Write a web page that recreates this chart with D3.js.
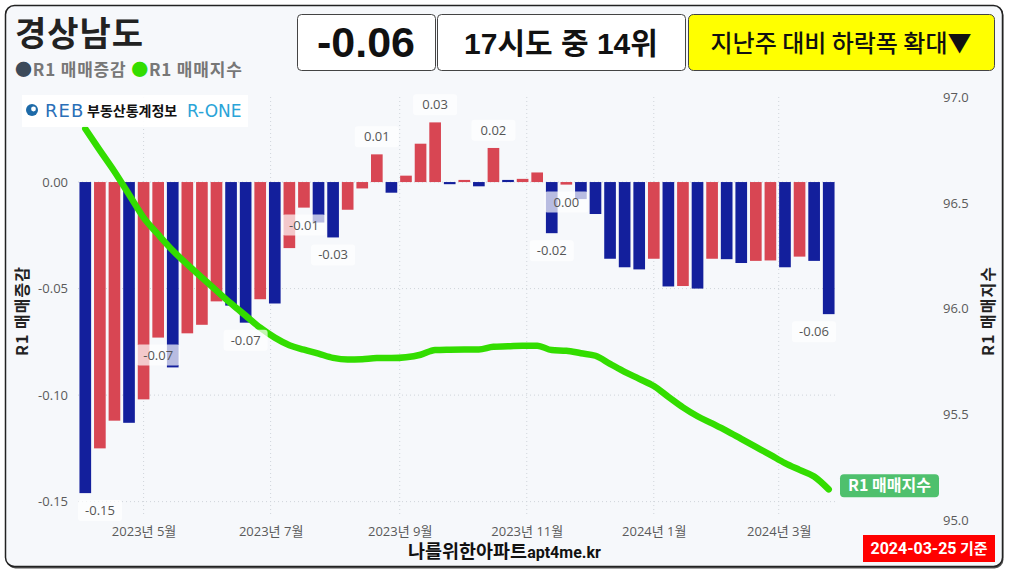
<!DOCTYPE html>
<html>
<head>
<meta charset="utf-8">
<script src="https://cdn.jsdelivr.net/npm/d3@7/dist/d3.min.js"></script>
<style>
  html, body { margin: 0; padding: 0; background: #ffffff; }
  svg { display: block; }
</style>
</head>
<body>
<svg id="chart" width="1009" height="574"></svg>
<script>
// ---------------- DATA ----------------
const weekDates = [
  "2023-04-03","2023-04-10","2023-04-17","2023-04-24",
  "2023-05-01","2023-05-08","2023-05-15","2023-05-22","2023-05-29",
  "2023-06-05","2023-06-12","2023-06-19","2023-06-26",
  "2023-07-03","2023-07-10","2023-07-17","2023-07-24","2023-07-31",
  "2023-08-07","2023-08-14","2023-08-21","2023-08-28",
  "2023-09-04","2023-09-11","2023-09-18","2023-09-25",
  "2023-10-02","2023-10-09","2023-10-16","2023-10-23","2023-10-30",
  "2023-11-06","2023-11-13","2023-11-20","2023-11-27",
  "2023-12-04","2023-12-11","2023-12-18","2023-12-25",
  "2024-01-01","2024-01-08","2024-01-15","2024-01-22","2024-01-29",
  "2024-02-05","2024-02-12","2024-02-19","2024-02-26",
  "2024-03-04","2024-03-11","2024-03-18","2024-03-25"
];
// R1 매매증감 (weekly change, %)
const changeValues = [
  -0.146, -0.125, -0.112, -0.113, -0.102, -0.073, -0.087, -0.071, -0.067, -0.056,
  -0.058, -0.066, -0.055, -0.057, -0.031, -0.012, -0.019, -0.026, -0.013, -0.003,
   0.013, -0.005,  0.003,  0.018,  0.028, -0.001,  0.001, -0.002,  0.016,  0.001,
   0.0015, 0.0045, -0.024, -0.0012, -0.008, -0.015, -0.036, -0.040, -0.041, -0.036,
  -0.049, -0.0488, -0.050, -0.036, -0.0362, -0.038, -0.037, -0.0368, -0.040, -0.035,
  -0.037, -0.062
];
// R1 매매지수 (index)
const indexValues = [
  96.851, 96.749, 96.649, 96.540, 96.431, 96.351, 96.275, 96.209, 96.147, 96.085,
  96.024, 95.967, 95.910, 95.863, 95.827, 95.806, 95.787, 95.767, 95.759, 95.761,
  95.766, 95.766, 95.770, 95.782, 95.804, 95.806, 95.807, 95.807, 95.820, 95.822,
  95.825, 95.825, 95.804, 95.801, 95.789, 95.777, 95.739, 95.701, 95.668, 95.634,
  95.583, 95.533, 95.491, 95.457, 95.422, 95.384, 95.346, 95.308, 95.269, 95.237,
  95.206, 95.145
];
const labelIndices = [0, 5, 11, 15, 17, 20, 24, 28, 32, 33, 51];
const leftTicks = [0, -0.05, -0.10, -0.15];
const rightTicks = [95.0, 95.5, 96.0, 96.5, 97.0];
const monthTicks = ["2023-05-01","2023-07-01","2023-09-01","2023-11-01","2024-01-01","2024-03-01"];
const monthTickLabels = ["2023년 5월","2023년 7월","2023년 9월","2023년 11월","2024년 1월","2024년 3월"];
const regionName = "경상남도";
const latestValue = "-0.06";
const rankText = "17시도 중 14위";
const trendText = "지난주 대비 하락폭 확대▼";
const baseDateText = "2024-03-25";

// ---------------- STYLE ----------------
const BLUE = "#131f9c", RED = "#d84653", GREEN = "#33dd00";
const KR = "'Noto Sans CJK KR', 'Noto Sans', sans-serif";
const TICKF = "'Open Sans', 'Noto Sans CJK KR', sans-serif";
const plot = { left: 78, right: 836, top: 97, bottom: 520 };

const parse = d3.utcParse("%Y-%m-%d");
const dates = weekDates.map(parse);
const DAY = 86400000;

const svg = d3.select("#chart");

// card
svg.append("rect").attr("x", 6.5).attr("y", 6.5).attr("width", 997).attr("height", 562)
  .attr("rx", 9).attr("fill", "#555");
svg.append("rect").attr("x", 5.5).attr("y", 5.5).attr("width", 997).attr("height", 561)
  .attr("rx", 9).attr("fill", "#f6f8fb").attr("stroke", "#222").attr("stroke-width", 1.5);

// scales
const x = d3.scaleUtc()
  .domain([new Date(+dates[0] - 3.5 * DAY), new Date(+dates[dates.length - 1] + 3.5 * DAY)])
  .range([plot.left, plot.right]);
const yL = d3.scaleLinear().domain([-0.15862, 0.03992]).range([plot.bottom, plot.top]);
const yR = d3.scaleLinear().domain([95, 97]).range([plot.bottom, 97.3]);
const step = x(dates[1]) - x(dates[0]);
const bw = step * 0.8;

// grid
const grid = svg.append("g");
grid.selectAll("line.h").data(leftTicks).join("line")
  .attr("x1", plot.left).attr("x2", plot.right)
  .attr("y1", d => yL(d)).attr("y2", d => yL(d))
  .attr("stroke", "#cfd4da").attr("stroke-width", 1).attr("stroke-dasharray", "1,3");
grid.selectAll("line.v").data(monthTicks.map(parse)).join("line")
  .attr("x1", d => x(d)).attr("x2", d => x(d))
  .attr("y1", plot.top).attr("y2", plot.bottom - 6)
  .attr("stroke", "#cfd4da").attr("stroke-width", 1).attr("stroke-dasharray", "1,3");

// bars
const barColor = (d, i) => (i === 0 ? BLUE : (d >= changeValues[i - 1] ? RED : BLUE));
svg.append("g").selectAll("rect").data(changeValues).join("rect")
  .attr("x", (d, i) => x(dates[i]) - bw / 2)
  .attr("width", bw)
  .attr("y", d => Math.min(yL(d), yL(0)))
  .attr("height", d => Math.max(1.2, Math.abs(yL(d) - yL(0))))
  .attr("fill", barColor);

// line
const line = d3.line()
  .x((d, i) => x(dates[i]))
  .y(d => yR(d))
  .curve(d3.curveMonotoneX);
svg.append("path").datum(indexValues)
  .attr("d", line)
  .attr("fill", "none").attr("stroke", GREEN).attr("stroke-width", 6.5)
  .attr("stroke-linecap", "round").attr("stroke-linejoin", "round");

// bar labels
const fmt = v => (Math.abs(v) < 0.005 ? "0.00" : v.toFixed(2));
const lab = svg.append("g");
labelIndices.forEach(i => {
  const v = changeValues[i];
  const bx = 44, bh = 21;
  let cx = x(dates[i]);
  cx = Math.max(plot.left + bx / 2, Math.min(plot.right - bx / 2, cx));
  const cy = v < 0 ? yL(v) + 17.5 : yL(v) - 17.7;
  lab.append("rect").attr("x", cx - bx / 2).attr("y", cy - bh / 2)
    .attr("width", bx).attr("height", bh).attr("rx", 3)
    .attr("fill", "#ffffff").attr("fill-opacity", 0.7);
  lab.append("text").attr("x", cx).attr("y", cy).attr("dy", "0.35em")
    .attr("text-anchor", "middle").attr("font-family", TICKF).attr("font-size", 13)
    .attr("fill", "#555").text(fmt(v));
});

// axes
const axL = svg.append("g").attr("transform", `translate(${plot.left - 10},0)`)
  .call(d3.axisLeft(yL).tickValues(leftTicks).tickSize(0).tickPadding(0)
    .tickFormat(d => d3.format(".2f")(d).replace("−", "-")));
const axR = svg.append("g").attr("transform", "translate(943,0)")
  .call(d3.axisRight(yR).tickValues(rightTicks).tickSize(0).tickPadding(0)
    .tickFormat(d3.format(".1f")));
const axB = svg.append("g").attr("transform", `translate(0,${plot.bottom})`)
  .call(d3.axisBottom(x).tickValues(monthTicks.map(parse)).tickSize(0).tickPadding(7)
    .tickFormat((d, i) => monthTickLabels[i]));
[axL, axR, axB].forEach(a => {
  a.select(".domain").remove();
  a.selectAll("text").attr("font-family", TICKF).attr("font-size", 13).attr("fill", "#5a5a5a");
});

// axis titles
svg.append("text").attr("transform", "translate(28,311) rotate(-90)")
  .attr("text-anchor", "middle").attr("font-family", KR).attr("font-weight", 700)
  .attr("font-size", 16).attr("letter-spacing", 1).attr("fill", "#222").text("R1 매매증감");
svg.append("text").attr("transform", "translate(994,311) rotate(-90)")
  .attr("text-anchor", "middle").attr("font-family", KR).attr("font-weight", 700)
  .attr("font-size", 16).attr("letter-spacing", 1).attr("fill", "#222").text("R1 매매지수");

// line end label
const lastI = indexValues.length - 1;
svg.append("rect").attr("x", 840).attr("y", yR(indexValues[lastI]) - 15)
  .attr("width", 99).attr("height", 23).attr("rx", 4).attr("fill", "#4fc06d");
svg.append("text").attr("x", 889.5).attr("y", yR(indexValues[lastI]) - 3.5).attr("dy", "0.35em")
  .attr("text-anchor", "middle").attr("font-family", KR).attr("font-weight", 700)
  .attr("font-size", 16).attr("fill", "#fff").text("R1 매매지수");

// logo
const logo = svg.append("g");
logo.append("rect").attr("x", 22).attr("y", 95).attr("width", 226).attr("height", 32)
  .attr("fill", "#ffffff").attr("fill-opacity", 0.92);
logo.append("circle").attr("cx", 32).attr("cy", 110).attr("r", 6).attr("fill", "#1d6aa8");
logo.append("circle").attr("cx", 33.5).attr("cy", 109).attr("r", 2.4).attr("fill", "#fff");
logo.append("text").attr("x", 45).attr("y", 117).attr("font-family", "'DejaVu Sans', sans-serif")
  .attr("font-size", 18).attr("fill", "#2a6fb8").attr("letter-spacing", 1).text("REB");
logo.append("text").attr("x", 87).attr("y", 116).attr("font-family", KR).attr("font-weight", 700)
  .attr("font-size", 14).attr("fill", "#111").text("부동산통계정보");
logo.append("text").attr("x", 187).attr("y", 117).attr("font-family", "'DejaVu Sans', sans-serif")
  .attr("font-size", 17).attr("fill", "#2aa4d8").text("R-ONE");

// title & legend
svg.append("text").attr("x", 15).attr("y", 46).attr("font-family", KR).attr("font-weight", 700)
  .attr("font-size", 34).attr("letter-spacing", 1).attr("fill", "#222").text(regionName);
const leg = svg.append("text").attr("x", 15).attr("y", 76).attr("font-family", KR)
  .attr("font-weight", 700).attr("font-size", 17).attr("letter-spacing", 0.8).attr("fill", "#777");
leg.append("tspan").attr("fill", "#3c4a5a").text("●");
leg.append("tspan").text("R1 매매증감 ");
leg.append("tspan").attr("fill", GREEN).text("●");
leg.append("tspan").text("R1 매매지수");

// header boxes
svg.append("rect").attr("x", 297.5).attr("y", 14.5).attr("width", 138).attr("height", 56)
  .attr("rx", 4).attr("fill", "#fff").attr("stroke", "#444");
svg.append("text").attr("x", 366).attr("y", 57).attr("text-anchor", "middle")
  .attr("font-family", "'Liberation Sans', Arial, sans-serif").attr("font-weight", 700)
  .attr("font-size", 43).attr("fill", "#111").text(latestValue);
svg.append("rect").attr("x", 437.5).attr("y", 14.5).attr("width", 248).attr("height", 56)
  .attr("rx", 4).attr("fill", "#fff").attr("stroke", "#444");
svg.append("text").attr("x", 561).attr("y", 54).attr("text-anchor", "middle")
  .attr("font-family", "'Liberation Sans', 'Noto Sans CJK KR', sans-serif").attr("font-weight", 700)
  .attr("font-size", 30).attr("fill", "#111").text(rankText);
svg.append("rect").attr("x", 688.5).attr("y", 14.5).attr("width", 306).attr("height", 56)
  .attr("rx", 5).attr("fill", "#ffff00").attr("stroke", "#444");
svg.append("text").attr("x", 841).attr("y", 52).attr("text-anchor", "middle")
  .attr("font-family", KR).attr("font-weight", 500)
  .attr("font-size", 24).attr("fill", "#111").text(trendText);

// footer
const ft = svg.append("text").attr("x", 408).attr("y", 558).attr("font-weight", 700).attr("fill", "#111");
ft.append("tspan").attr("font-family", KR).attr("font-size", 18.5).text("나를위한아파트");
ft.append("tspan").attr("font-family", "'Liberation Sans Narrow', 'Roboto', sans-serif")
  .attr("font-size", 16).text("apt4me.kr");

svg.append("rect").attr("x", 863).attr("y", 535).attr("width", 132).attr("height", 27).attr("fill", "#ff0000");
const dt = svg.append("text").attr("x", 929).attr("y", 554).attr("text-anchor", "middle")
  .attr("font-weight", 700).attr("fill", "#fff");
dt.append("tspan").attr("font-family", "'Liberation Sans Narrow', 'Roboto', sans-serif")
  .attr("font-size", 16).text(baseDateText);
dt.append("tspan").attr("font-family", KR).attr("font-size", 15).text(" 기준");
</script>
</body>
</html>
